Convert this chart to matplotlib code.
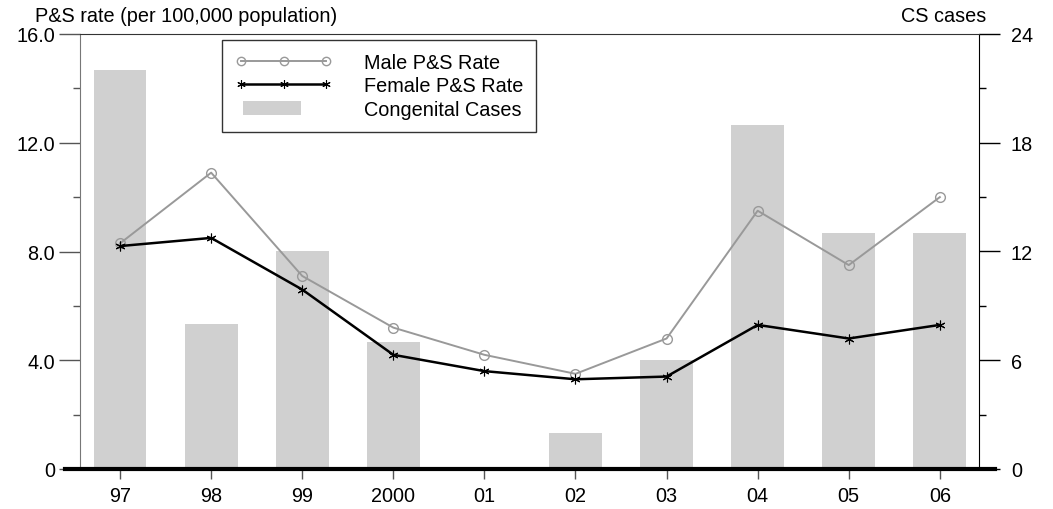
import matplotlib
matplotlib.use("Agg")
import matplotlib.pyplot as plt
from matplotlib.lines import Line2D
from matplotlib.patches import Patch, Rectangle
from matplotlib.legend_handler import HandlerPatch
import numpy as np

plt.rcParams['font.family'] = ['Liberation Sans', 'DejaVu Sans']

years = ["97", "98", "99", "2000", "01", "02", "03", "04", "05", "06"]
male_rate = [8.3, 10.9, 7.1, 5.2, 4.2, 3.5, 4.8, 9.5, 7.5, 10.0]
female_rate = [8.2, 8.5, 6.6, 4.2, 3.6, 3.3, 3.4, 5.3, 4.8, 5.3]
congenital_cases = [22, 8, 12, 7, 0, 2, 6, 19, 13, 13]
left_ticks = [0, 4, 8, 12, 16]
left_labels = ["0", "4.0", "8.0", "12.0", "16.0"]
right_ticks = [0, 6, 12, 18, 24]

FS = 14.3
W, H = 1053, 510
fig = plt.figure(figsize=(W / 100, H / 100), dpi=100)
ax = fig.add_axes([80 / W, 1 - 470 / H, (979 - 80) / W, (470 - 35) / H])
ax2 = ax.twinx()

x = np.arange(len(years))
ax2.bar(x, congenital_cases, width=0.58, color='#d0d0d0', zorder=1)
ax2.set_ylim(0, 24)
ax2.set_yticks(right_ticks)
ax2.set_yticks(np.arange(3, 24, 6), minor=True)

ax.set_zorder(ax2.get_zorder() + 1)
ax.patch.set_visible(False)

female_marker = (6, 2, 0)
ax.plot(x, male_rate, color='#999999', lw=1.4, marker='o', ms=7,
        mfc='none', mec='#999999', mew=1.0, zorder=3)
ax.plot(x, female_rate, color='black', lw=1.8, marker=female_marker, ms=7,
        mec='black', mew=0.8, zorder=4)

ax.set_xlim(-0.44, 9.43)
ax.set_ylim(0, 16)
ax.set_yticks(left_ticks)
ax.set_yticklabels(left_labels)
ax.set_yticks(np.arange(2, 16, 4), minor=True)
ax.set_xticks(x)
ax.set_xticklabels(years)

for a in (ax, ax2):
    a.spines['bottom'].set_visible(False)
ax.spines['left'].set_color('#777777')
ax.spines['right'].set_visible(False)
ax2.spines['left'].set_visible(False)
ax2.spines['right'].set_color('black')
ax.spines['top'].set_color('#333333')
ax2.spines['top'].set_visible(False)

ax.tick_params(axis='y', which='major', direction='out', length=15, width=1.0,
               color='#555555', labelsize=FS, pad=3)
ax.tick_params(axis='y', which='minor', direction='out', length=5, width=1.0,
               color='#555555')
ax.tick_params(axis='x', which='major', direction='out', length=7, width=1.0,
               color='#555555', labelsize=FS, pad=5)
ax2.tick_params(axis='y', which='major', direction='out', length=15, width=1.0,
                color='black', labelsize=FS, pad=8)
ax2.tick_params(axis='y', which='minor', direction='out', length=5, width=1.0,
                color='black')

# thick baseline
fig.add_artist(Line2D([65 / W, 995 / W], [1 - 470 / H, 1 - 470 / H],
                      transform=fig.transFigure, color='black', lw=3, zorder=10))

fig.text(35 / W, 1 - 17 / H, "P&S rate (per 100,000 population)",
         ha='left', va='center', fontsize=FS)
fig.text(986 / W, 1 - 17 / H, "CS cases", ha='right', va='center', fontsize=FS)


def small_rect(legend, orig_handle, xdescent, ydescent, width, height, fontsize):
    return Rectangle((-xdescent + 0.08 * width, -ydescent), 0.6 * width, height)


handles = [
    Line2D([], [], color='#999999', lw=1.4, marker='o', ms=6, mfc='none',
           mec='#999999'),
    Line2D([], [], color='black', lw=1.8, marker=female_marker, ms=6,
           mec='black', mew=0.8),
    Patch(facecolor='#d0d0d0', edgecolor='none'),
]
leg = ax.legend(handles, ["Male P&S Rate", "Female P&S Rate", "Congenital Cases"],
                loc='upper left', bbox_to_anchor=((222 - 80) / (979 - 80), 1 - 6 / 435),
                numpoints=3, fontsize=FS, frameon=True, fancybox=False,
                edgecolor='black', handlelength=4.9, handletextpad=1.6,
                labelspacing=0.22, borderpad=0.65, borderaxespad=0,
                handler_map={Patch: HandlerPatch(patch_func=small_rect)})
leg.get_frame().set_linewidth(1.0)

fig.savefig("out.png", dpi=100)
